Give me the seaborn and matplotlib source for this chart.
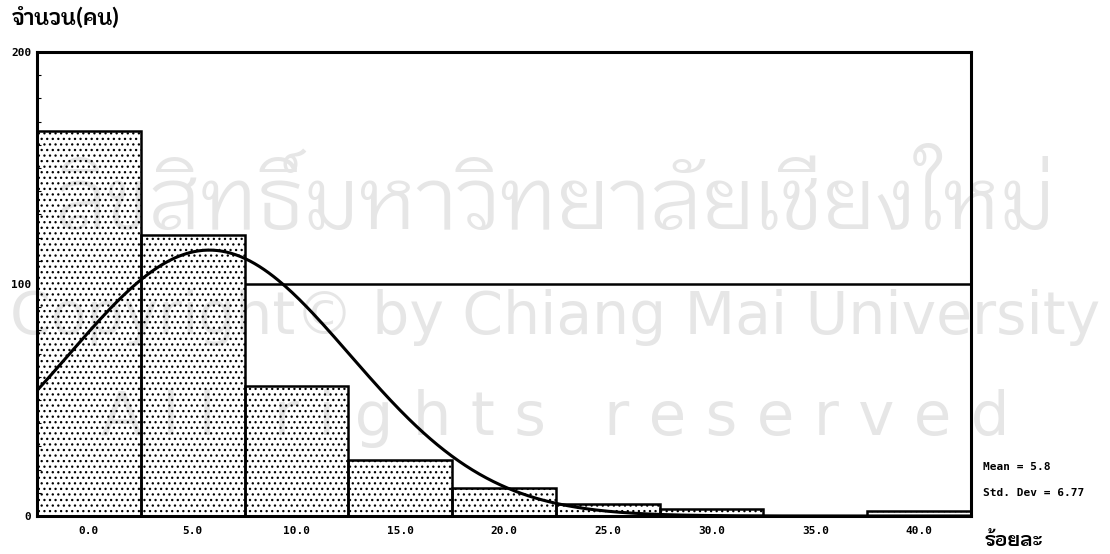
import numpy as np
import pandas as pd
import matplotlib
matplotlib.use("Agg")
import matplotlib.pyplot as plt
import seaborn as sns
from matplotlib import font_manager as fm

# ---------------- data ----------------
bin_centers = [0.0, 5.0, 10.0, 15.0, 20.0, 25.0, 30.0, 35.0, 40.0]
counts = [166, 121, 56, 24, 12, 5, 3, 0, 2]
x_ticks = [0, 5, 10, 15, 20, 25, 30, 35, 40]
x_tick_labels = ["0.0", "5.0", "10.0", "15.0", "20.0", "25.0", "30.0", "35.0", "40.0"]
y_ticks = [0, 100, 200]
y_tick_labels = ["0", "100", "200"]
mean_val = 5.8
std_val = 6.77
bin_width = 5.0
ref_line_value = 100
y_title = "จำนวน(คน)"
x_title = "ร้อยละ"
stats_lines = ["Mean = 5.8", "Std. Dev = 6.77"]
watermark = ["ลิขสิทธิ์มหาวิทยาลัยเชียงใหม่",
             "Copyright© by Chiang Mai University",
             "A l l   r i g h t s   r e s e r v e d"]


def find_thai_font():
    try:
        from fontTools.ttLib import TTFont
    except Exception:
        return None
    best = None
    for f in fm.findSystemFonts():
        try:
            tt = TTFont(f, fontNumber=0, lazy=True)
            cmap = tt.getBestCmap()
            if cmap and 0x0E08 in cmap and 0x0E33 in cmap:
                name = fm.FontProperties(fname=f).get_name()
                if best is None:
                    best = name
                if "Bold" in f:
                    return name
        except Exception:
            pass
    return best


sns.set_theme(style="white")
thai = find_thai_font()
fams = ([thai] if thai else []) + ["DejaVu Sans"]
plt.rcParams["font.family"] = fams
plt.rcParams["text.color"] = "black"
plt.rcParams["xtick.color"] = "black"
plt.rcParams["ytick.color"] = "black"

df = pd.DataFrame({"x": bin_centers, "count": counts})

fig = plt.figure(figsize=(11.10, 5.54), dpi=100)
ax = fig.add_axes([37 / 1110, 1 - 516 / 554, (971 - 37) / 1110, (516 - 52) / 554])
ax.set_zorder(2)
ax.patch.set_alpha(0)

# watermark (behind everything)
wm_col = "#e6e6e6"
fig.text(0.5, 1 - 205 / 554, watermark[0], ha="center", va="center", fontsize=62,
         color=wm_col, family=fams, zorder=0)
fig.text(0.5, 1 - 318 / 554, watermark[1], ha="center", va="center", fontsize=42,
         color=wm_col, family=["DejaVu Sans"], zorder=0)
fig.text(0.5, 1 - 418 / 554, watermark[2], ha="center", va="center", fontsize=44,
         color=wm_col, family=["DejaVu Sans"], zorder=0)

plt.rcParams["hatch.linewidth"] = 0.9
sns.histplot(data=df, x="x", weights="count", binwidth=bin_width, binrange=(-2.5, 42.5),
             ax=ax, stat="count", element="bars", fill=True, color="white",
             edgecolor="black", linewidth=1.8, hatch="...", alpha=1.0, zorder=2)
for p in ax.patches:
    p.set_facecolor("none")

# fitted normal curve from the reported mean and std. dev
N = sum(counts)
xs = np.linspace(-2.5, 42.5, 400)
ys = N * bin_width / (std_val * np.sqrt(2 * np.pi)) * np.exp(-0.5 * ((xs - mean_val) / std_val) ** 2)
sns.lineplot(x=xs, y=ys, ax=ax, color="black", linewidth=2.2, zorder=4)

# horizontal reference line
ax.hlines(ref_line_value, 7.5, 42.5, color="black", linewidth=1.8, zorder=3)

ax.set_xlim(-2.5, 42.5)
ax.set_ylim(0, 200)
ax.set_xlabel("")
ax.set_ylabel("")

ax.set_xticks(x_ticks)
ax.set_xticklabels(x_tick_labels, fontsize=8, fontweight="bold", family=["DejaVu Sans Mono"],
                   color="black")
ax.set_yticks(y_ticks)
ax.set_yticklabels(y_tick_labels, fontsize=8, fontweight="bold", family=["DejaVu Sans Mono"],
                   color="black")
ax.set_yticks(np.arange(0, 201, 10), minor=True)
ax.tick_params(axis="x", which="major", direction="out", length=4, width=5, pad=3, color="black")
ax.tick_params(axis="y", which="major", direction="out", length=3, width=2, pad=1, color="black")
ax.tick_params(axis="y", which="minor", direction="in", length=3, width=0.8, left=True, color="black")

for s in ax.spines.values():
    s.set_visible(True)
    s.set_color("black")
    s.set_linewidth(2.2)
    s.set_zorder(5)

fig.text(12 / 1110, 1 - 20 / 554, y_title, ha="left", va="center", fontsize=16,
         fontweight="bold", family=fams, color="black")
fig.text(985 / 1110, 1 - 540 / 554, x_title, ha="left", va="center", fontsize=14,
         fontweight="bold", family=fams, color="black")
fig.text(983 / 1110, 1 - 467 / 554, stats_lines[0], ha="left", va="center", fontsize=8,
         fontweight="bold", family=["DejaVu Sans Mono"], color="black")
fig.text(983 / 1110, 1 - 493 / 554, stats_lines[1], ha="left", va="center", fontsize=8,
         fontweight="bold", family=["DejaVu Sans Mono"], color="black")

fig.savefig("out.png", dpi=100, facecolor="white")
